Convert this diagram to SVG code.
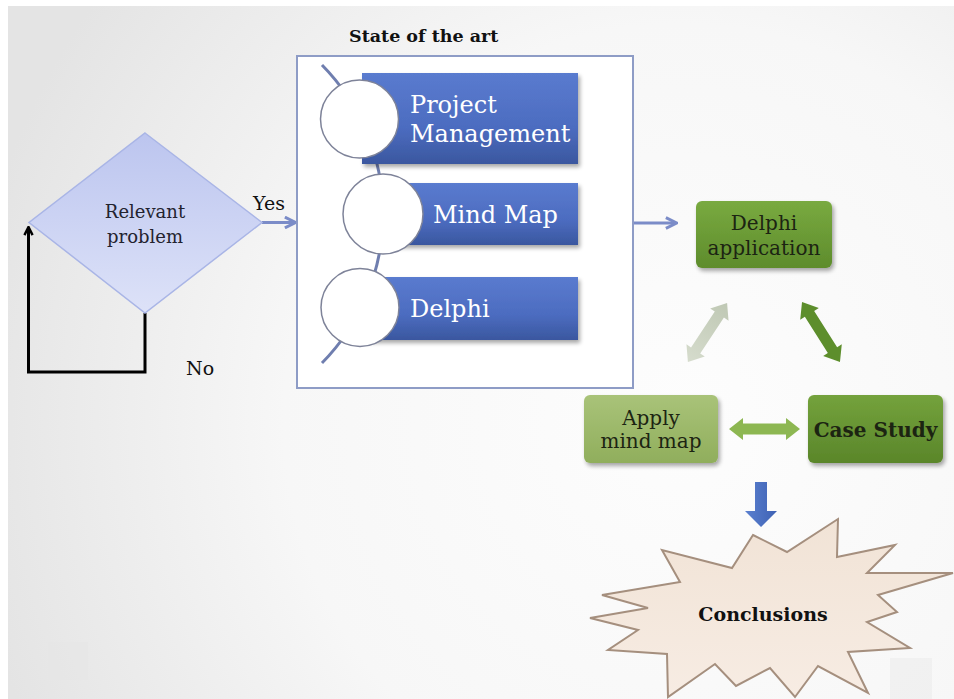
<svg xmlns="http://www.w3.org/2000/svg" width="954" height="699" viewBox="0 0 954 699">
  <defs>
    <radialGradient id="bg" cx="680" cy="420" r="720" gradientUnits="userSpaceOnUse">
      <stop offset="0" stop-color="#fdfdfd"/>
      <stop offset="0.55" stop-color="#f7f7f7"/>
      <stop offset="1" stop-color="#e4e4e4"/>
    </radialGradient>
    <linearGradient id="diamondFill" x1="0" y1="0" x2="0" y2="1">
      <stop offset="0" stop-color="#bcc5ef"/>
      <stop offset="1" stop-color="#dde2f8"/>
    </linearGradient>
    <linearGradient id="blueBar" x1="0" y1="0" x2="0" y2="1">
      <stop offset="0" stop-color="#5a7bcf"/>
      <stop offset="0.6" stop-color="#4c6cc0"/>
      <stop offset="1" stop-color="#3a579f"/>
    </linearGradient>
    <linearGradient id="greenDark" x1="0" y1="0" x2="0" y2="1">
      <stop offset="0" stop-color="#79aa40"/>
      <stop offset="1" stop-color="#5e8c2c"/>
    </linearGradient>
    <linearGradient id="greenLight" x1="0" y1="0" x2="0" y2="1">
      <stop offset="0" stop-color="#a9c379"/>
      <stop offset="1" stop-color="#90ae5c"/>
    </linearGradient>
    <linearGradient id="greenCase" x1="0" y1="0" x2="0" y2="1">
      <stop offset="0" stop-color="#74a23c"/>
      <stop offset="1" stop-color="#5a862a"/>
    </linearGradient>
    <linearGradient id="burstFill" x1="0" y1="0" x2="0" y2="1">
      <stop offset="0" stop-color="#f1e3d6"/>
      <stop offset="1" stop-color="#f7ece3"/>
    </linearGradient>
    <linearGradient id="downFill" x1="0" y1="0" x2="1" y2="0">
      <stop offset="0" stop-color="#5b80cf"/>
      <stop offset="1" stop-color="#3e62b4"/>
    </linearGradient>
    <linearGradient id="grayArrow" x1="0" y1="0" x2="1" y2="0">
      <stop offset="0" stop-color="#bfc8b4"/>
      <stop offset="1" stop-color="#d6dccd"/>
    </linearGradient>
    <filter id="shadow" x="-10%" y="-10%" width="125%" height="135%">
      <feGaussianBlur in="SourceAlpha" stdDeviation="2.2"/>
      <feOffset dx="1.5" dy="2.5" result="b"/>
      <feComponentTransfer><feFuncA type="linear" slope="0.35"/></feComponentTransfer>
      <feMerge><feMergeNode/><feMergeNode in="SourceGraphic"/></feMerge>
    </filter>
    <marker id="headBlue" viewBox="0 0 10 10" refX="8.5" refY="5" markerWidth="4.5" markerHeight="4.5" orient="auto" markerUnits="strokeWidth">
      <path d="M1,1 L9,5 L1,9" fill="none" stroke="#7b8cc8" stroke-width="2.2"/>
    </marker>
    <marker id="headBlack" viewBox="0 0 10 10" refX="8" refY="5" markerWidth="3.4" markerHeight="3.4" orient="auto" markerUnits="strokeWidth">
      <path d="M1,1 L9,5 L1,9" fill="none" stroke="#000" stroke-width="2.4"/>
    </marker>
    <!-- block double arrow, 71 long, centred on the origin -->
    <path id="dbl" d="M-35.5,0 L-21.5,-11 L-21.5,-5.5 L21.5,-5.5 L21.5,-11 L35.5,0 L21.5,11 L21.5,5.5 L-21.5,5.5 L-21.5,11 Z"/>
  </defs>
  <style>
    .serif { font-family: "DejaVu Serif", "Liberation Serif", serif; }
    .dtext { font-size: 18px; fill: #23232f; text-anchor: middle; }
    .label { font-size: 19px; fill: #111; }
    .bar { fill: url(#blueBar); filter: url(#shadow); }
    .bartext { font-size: 24px; fill: #ffffff; }
    .ring { fill: #ffffff; stroke: #7e8399; stroke-width: 1.5; }
    .gtext { font-size: 20px; fill: #1c2412; text-anchor: middle; }
    .conn-blue { fill: none; stroke: #7b8cc8; stroke-width: 3; }
  </style>

  <!-- slide background -->
  <rect x="0" y="0" width="954" height="699" fill="#ffffff"/>
  <rect x="8" y="6" width="946" height="693" fill="url(#bg)"/>
  <rect x="48" y="642" width="40" height="38" fill="#e6e6e6" opacity="0.5"/>
  <rect x="890" y="658" width="42" height="41" fill="#e9e9e9" opacity="0.5"/>

  <!-- connectors -->
  <g id="connectors">
    <line class="conn-blue" x1="262" y1="222.5" x2="295" y2="222.5" marker-end="url(#headBlue)"/>
    <line class="conn-blue" x1="633" y1="223" x2="676" y2="223" marker-end="url(#headBlue)"/>
    <path d="M145,313 L145,372 L28.5,372 L28.5,228" fill="none" stroke="#000" stroke-width="3" marker-end="url(#headBlack)"/>
    <use href="#dbl" transform="translate(707.5,332.5) rotate(123.5)" fill="url(#grayArrow)"/>
    <use href="#dbl" transform="translate(821,332) rotate(57.7)" fill="#5d8e2c"/>
    <use href="#dbl" transform="translate(764.5,429)" fill="#8db752"/>
    <path d="M755,482 L767,482 L767,511 L777,511 L761,527 L745,511 L755,511 Z" fill="url(#downFill)"/>
  </g>

  <!-- decision -->
  <g id="decision">
    <polygon points="145,133 262,222.5 145,313 29,222.5" fill="url(#diamondFill)" stroke="#a9b5e6" stroke-width="1.5"/>
    <text class="serif dtext" x="145" y="218">Relevant</text>
    <text class="serif dtext" x="145" y="243">problem</text>
  </g>
  <text id="yes-label" class="serif label" x="253" y="210">Yes</text>
  <text id="no-label" class="serif label" x="186" y="375">No</text>

  <!-- state of the art -->
  <g id="state-of-the-art">
    <text class="serif" x="349" y="42" font-size="17.5" font-weight="bold" fill="#111">State of the art</text>
    <rect x="297" y="56" width="336" height="332" fill="#ffffff" stroke="#8e9cc6" stroke-width="2"/>
    <path d="M322,65 A212.5,212.5 0 0 1 322,363" fill="none" stroke="#6f7eaf" stroke-width="3"/>
  </g>
  <g id="project-management">
    <rect class="bar" x="362" y="73" width="216" height="91"/>
    <circle class="ring" cx="359.5" cy="119" r="39"/>
    <text class="serif bartext" x="410" y="113">Project</text>
    <text class="serif bartext" x="410" y="142">Management</text>
  </g>
  <g id="mind-map">
    <rect class="bar" x="385" y="183" width="193" height="62"/>
    <circle class="ring" cx="383" cy="214" r="40"/>
    <text class="serif bartext" x="433" y="223" font-size="25">Mind Map</text>
  </g>
  <g id="delphi">
    <rect class="bar" x="362" y="277" width="216" height="63"/>
    <circle class="ring" cx="360" cy="307.5" r="39"/>
    <text class="serif bartext" x="410" y="317">Delphi</text>
  </g>

  <!-- cycle -->
  <g id="delphi-application">
    <rect x="696" y="201" width="136" height="67" rx="6" fill="url(#greenDark)" filter="url(#shadow)"/>
    <text class="serif gtext" x="764" y="230">Delphi</text>
    <text class="serif gtext" x="764" y="255">application</text>
  </g>
  <g id="apply-mind-map">
    <rect x="584" y="395" width="134" height="68" rx="6" fill="url(#greenLight)" filter="url(#shadow)"/>
    <text class="serif gtext" x="651" y="425">Apply</text>
    <text class="serif gtext" x="651" y="448">mind map</text>
  </g>
  <g id="case-study">
    <rect x="808" y="395" width="135" height="68" rx="6" fill="url(#greenCase)" filter="url(#shadow)"/>
    <text class="serif gtext" x="875.5" y="437" font-size="18" font-weight="bold" fill="#111">Case Study</text>
  </g>

  <!-- conclusions -->
  <g id="conclusions">
    <polygon points="753,535 787,552 838,519 837,557 895,545 867,573 953,573 878,595 897,612 867,622 910,648 848,652 868,693 818,666 795,697 770,668 736,686 715,664 668,697 667,654 608,650 638,630 590,618 648,608 602,595 680,582 662,550 732,568" fill="url(#burstFill)" stroke="#a58f7e" stroke-width="2" stroke-linejoin="miter"/>
    <text class="serif" x="763" y="621" font-size="19" font-weight="bold" fill="#111" text-anchor="middle">Conclusions</text>
  </g>
</svg>
